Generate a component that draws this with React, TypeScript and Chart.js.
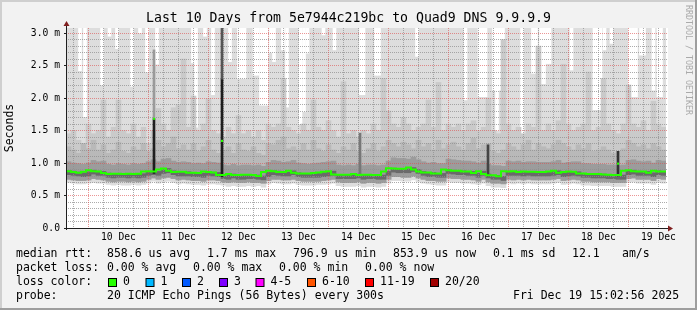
import React, { useEffect, useRef } from "react";
import { Chart, registerables } from "chart.js";

Chart.register(...registerables);

// ---------- texts ----------
const chartTitle = "Last 10 Days from 5e7944c219bc to Quad9 DNS 9.9.9.9";
const yAxisTitle = "Seconds";
const watermark = "RRDTOOL / TOBI OETIKER";

// ---------- time axis (hours since Dec 9 15:02:56, window = 10 days) ----------
const windowHours = 240;
const stepHours = 2;
const firstMidnightHour = 8.95; // Dec 10 00:00
const dayNoonHours = [20.95, 44.95, 68.95, 92.95, 116.95, 140.95, 164.95, 188.95, 212.95, 236.95];
const dayLabels = ["10 Dec", "11 Dec", "12 Dec", "13 Dec", "14 Dec", "15 Dec", "16 Dec", "17 Dec", "18 Dec", "19 Dec"];

// ---------- value axis (ms) ----------
const yMax = 3.077;
const yTickValues = [0, 0.5, 1.0, 1.5, 2.0, 2.5, 3.0];
const yTickLabels = ["0.0", "0.5 m", "1.0 m", "1.5 m", "2.0 m", "2.5 m", "3.0 m"];
const smokeCeiling = 3.5; // pings above the visible range

// ---------- per 2-hour column values (ms) ----------
const medianRtt = [
  0.88, 0.875, 0.86, 0.85, 0.865, 0.89, 0.875, 0.87, 0.845, 0.83, 0.835, 0.835,
  0.83, 0.835, 0.83, 0.835, 0.87, 0.875, 0.87, 0.9, 0.915, 0.88, 0.86, 0.865,
  0.865, 0.85, 0.85, 0.845, 0.87, 0.86, 0.855, 0.815, 0.815, 0.83, 0.815, 0.815,
  0.82, 0.82, 0.815, 0.8, 0.86, 0.88, 0.875, 0.86, 0.86, 0.88, 0.85, 0.84,
  0.84, 0.84, 0.845, 0.855, 0.865, 0.875, 0.825, 0.82, 0.82, 0.82, 0.83, 0.815,
  0.82, 0.82, 0.815, 0.815, 0.87, 0.92, 0.915, 0.91, 0.91, 0.93, 0.9, 0.87,
  0.855, 0.855, 0.84, 0.84, 0.9, 0.89, 0.88, 0.88, 0.87, 0.87, 0.845, 0.875,
  0.83, 0.81, 0.81, 0.795, 0.875, 0.87, 0.875, 0.86, 0.87, 0.865, 0.865, 0.86,
  0.86, 0.87, 0.88, 0.85, 0.86, 0.87, 0.865, 0.84, 0.84, 0.83, 0.83, 0.83,
  0.825, 0.82, 0.815, 0.815, 0.88, 0.89, 0.875, 0.87, 0.87, 0.85, 0.88, 0.87,
];
// lowest ping (light smoke bottom)
const smokeLow = [
  0.7, 0.69, 0.68, 0.68, 0.69, 0.7, 0.69, 0.69, 0.67, 0.66, 0.67, 0.66,
  0.66, 0.67, 0.66, 0.67, 0.69, 0.72, 0.69, 0.71, 0.72, 0.7, 0.68, 0.69,
  0.68, 0.67, 0.67, 0.66, 0.68, 0.68, 0.67, 0.66, 0.64, 0.65, 0.64, 0.64,
  0.65, 0.64, 0.65, 0.63, 0.68, 0.7, 0.69, 0.68, 0.68, 0.69, 0.67, 0.66,
  0.66, 0.66, 0.67, 0.67, 0.68, 0.69, 0.65, 0.64, 0.64, 0.64, 0.65, 0.63,
  0.64, 0.64, 0.63, 0.64, 0.69, 0.73, 0.73, 0.72, 0.72, 0.74, 0.71, 0.69,
  0.68, 0.67, 0.66, 0.66, 0.71, 0.7, 0.7, 0.69, 0.69, 0.68, 0.67, 0.69,
  0.65, 0.63, 0.63, 0.62, 0.69, 0.68, 0.69, 0.68, 0.69, 0.68, 0.68, 0.68,
  0.68, 0.69, 0.7, 0.67, 0.68, 0.69, 0.68, 0.66, 0.66, 0.65, 0.65, 0.65,
  0.65, 0.64, 0.64, 0.64, 0.7, 0.71, 0.69, 0.69, 0.69, 0.67, 0.7, 0.69,
];
// bottom of medium smoke
const smokeMidLow = [
  0.75, 0.74, 0.73, 0.73, 0.74, 0.76, 0.75, 0.74, 0.72, 0.71, 0.72, 0.72,
  0.71, 0.72, 0.71, 0.72, 0.75, 0.77, 0.75, 0.77, 0.78, 0.76, 0.74, 0.75,
  0.74, 0.73, 0.73, 0.72, 0.74, 0.74, 0.73, 0.71, 0.7, 0.71, 0.7, 0.7,
  0.71, 0.7, 0.7, 0.69, 0.73, 0.75, 0.75, 0.74, 0.74, 0.75, 0.73, 0.72,
  0.72, 0.72, 0.72, 0.73, 0.74, 0.75, 0.71, 0.7, 0.7, 0.7, 0.71, 0.69,
  0.7, 0.7, 0.69, 0.7, 0.75, 0.79, 0.79, 0.78, 0.78, 0.8, 0.77, 0.75,
  0.73, 0.73, 0.72, 0.72, 0.77, 0.76, 0.76, 0.75, 0.75, 0.74, 0.72, 0.75,
  0.71, 0.69, 0.69, 0.68, 0.75, 0.74, 0.75, 0.74, 0.75, 0.74, 0.74, 0.74,
  0.74, 0.75, 0.76, 0.73, 0.74, 0.75, 0.74, 0.72, 0.72, 0.71, 0.71, 0.71,
  0.71, 0.7, 0.7, 0.7, 0.76, 0.77, 0.75, 0.75, 0.75, 0.73, 0.76, 0.75,
];
// bottom of dark core smoke
const smokeCoreLow = [
  0.82, 0.81, 0.8, 0.79, 0.8, 0.83, 0.81, 0.81, 0.78, 0.77, 0.78, 0.78,
  0.77, 0.78, 0.77, 0.78, 0.81, 0.82, 0.81, 0.84, 0.85, 0.82, 0.8, 0.8,
  0.8, 0.79, 0.79, 0.78, 0.81, 0.8, 0.79, 0.76, 0.75, 0.77, 0.75, 0.75,
  0.76, 0.76, 0.75, 0.74, 0.79, 0.82, 0.81, 0.8, 0.8, 0.82, 0.79, 0.78,
  0.78, 0.78, 0.78, 0.79, 0.8, 0.81, 0.76, 0.76, 0.76, 0.76, 0.77, 0.75,
  0.76, 0.76, 0.75, 0.75, 0.81, 0.86, 0.85, 0.85, 0.85, 0.87, 0.84, 0.81,
  0.79, 0.79, 0.78, 0.78, 0.84, 0.83, 0.82, 0.82, 0.81, 0.81, 0.78, 0.81,
  0.77, 0.75, 0.75, 0.73, 0.81, 0.81, 0.81, 0.8, 0.81, 0.8, 0.8, 0.8,
  0.8, 0.81, 0.82, 0.79, 0.8, 0.81, 0.8, 0.78, 0.78, 0.77, 0.77, 0.77,
  0.76, 0.76, 0.75, 0.75, 0.82, 0.83, 0.81, 0.81, 0.81, 0.79, 0.82, 0.81,
];
// top of dark smoke
const smokeDarkHigh = [
  1.02, 1.0, 0.99, 0.98, 1.0, 1.04, 1.02, 1.03, 0.98, 0.97, 0.99, 0.98,
  0.97, 0.99, 0.98, 0.99, 1.02, 1.05, 1.02, 1.06, 1.07, 1.03, 1.01, 1.02,
  1.01, 0.99, 1.0, 0.99, 1.02, 1.01, 1.0, 0.97, 0.96, 0.98, 0.96, 0.97,
  0.97, 0.96, 0.97, 0.95, 1.01, 1.04, 1.03, 1.01, 1.02, 1.04, 1.0, 0.99,
  0.98, 0.99, 1.0, 1.01, 1.02, 1.03, 0.97, 0.96, 0.97, 0.96, 0.98, 0.96,
  0.97, 0.97, 0.96, 0.97, 1.03, 1.08, 1.07, 1.07, 1.06, 1.09, 1.05, 1.02,
  1.0, 1.01, 0.99, 0.99, 1.06, 1.05, 1.04, 1.03, 1.03, 1.02, 1.0, 1.03,
  0.98, 0.96, 0.96, 0.95, 1.03, 1.02, 1.03, 1.01, 1.02, 1.02, 1.01, 1.01,
  1.01, 1.02, 1.04, 1.0, 1.01, 1.02, 1.02, 0.99, 0.99, 0.98, 0.98, 0.98,
  0.97, 0.97, 0.96, 0.97, 1.04, 1.05, 1.03, 1.02, 1.03, 1.0, 1.04, 1.03,
];
// top of medium-dark smoke
const smokeMid2High = [
  1.25, 1.2, 1.15, 1.3, 1.22, 1.35, 1.2, 1.28, 1.15, 1.2, 1.32, 1.18,
  1.15, 1.25, 1.2, 1.3, 1.18, 1.22, 1.35, 1.25, 1.3, 1.4, 1.22, 1.28,
  1.2, 1.3, 1.18, 1.25, 1.35, 1.2, 1.15, 1.2, 1.25, 1.15, 1.3, 1.2,
  1.18, 1.25, 1.15, 1.12, 1.3, 1.28, 1.35, 1.4, 1.22, 1.25, 1.2, 1.3,
  1.2, 1.35, 1.22, 1.18, 1.28, 1.2, 1.15, 1.25, 1.2, 1.3, 1.18, 1.15,
  1.22, 1.3, 1.18, 1.25, 1.35, 1.3, 1.25, 1.32, 1.28, 1.22, 1.35, 1.25,
  1.3, 1.2, 1.35, 1.22, 1.28, 1.32, 1.25, 1.2, 1.3, 1.38, 1.22, 1.28,
  1.3, 1.18, 1.15, 1.2, 1.3, 1.25, 1.2, 1.28, 1.35, 1.2, 1.3, 1.25,
  1.22, 1.28, 1.35, 1.3, 1.25, 1.2, 1.28, 1.22, 1.3, 1.18, 1.2, 1.25,
  1.2, 1.15, 1.18, 1.22, 1.35, 1.3, 1.25, 1.28, 1.22, 1.3, 1.25, 1.2,
];
// top of medium smoke
const smokeMidHigh = [
  1.45, 1.5, 1.35, 1.3, 1.6, 1.45, 1.5, 1.97, 1.4, 1.55, 1.97, 1.5,
  1.45, 1.6, 1.4, 1.55, 1.3, 1.5, 1.84, 1.6, 1.5, 1.85, 1.9, 2.6,
  1.55, 2.03, 1.5, 1.6, 1.99, 1.5, 1.45, 1.4, 1.55, 1.45, 1.73, 1.45,
  1.5, 1.4, 1.5, 1.35, 1.6, 1.55, 1.6, 2.3, 1.55, 1.5, 1.45, 1.6,
  1.5, 1.97, 1.55, 1.5, 1.65, 1.5, 1.4, 2.25, 1.45, 1.5, 1.4, 1.5,
  1.45, 1.6, 1.5, 2.3, 1.8, 1.6, 1.55, 1.7, 1.6, 1.5, 1.55, 1.6,
  1.97, 1.55, 2.24, 1.5, 1.6, 1.55, 1.6, 1.5, 1.6, 1.65, 1.5, 1.55,
  2.0, 1.5, 1.45, 2.9, 1.6, 1.5, 1.55, 1.45, 1.6, 1.55, 2.8, 1.5,
  1.6, 1.5, 1.65, 2.52, 1.6, 1.5, 1.55, 1.6, 2.4, 1.5, 1.55, 2.3,
  1.6, 1.5, 1.45, 1.6, 2.2, 1.6, 1.55, 1.65, 1.5, 1.95, 1.6, 1.55,
];

// ---------- narrow features ----------
// steps where the highest ping stayed below the visible top (white streaks)
const maxGapHours = [
  5.6, 7.6, 14.4, 17.4, 20.4, 26.4, 29.6, 32.4, 36.4, 50.8, 52.0, 55.6, 58.8, 65.6,
  69.2, 70.4, 71.4, 75.4, 76.6, 78.0, 79.2, 80.2, 82.0, 83.2, 86.8, 88.4, 93.8, 95.2,
  96.6, 103.0, 107.4, 118.0, 119.0, 124.0, 125.2, 140.4, 159.8, 165.4, 166.6, 167.8,
  171.2, 172.4, 173.6, 174.8, 182.4, 186.8, 188.0, 190.0, 191.2, 192.4, 193.4, 202.2,
  211.4, 212.6, 213.8, 215.4, 218.2, 225.6, 226.8, 228.0, 230.0, 231.2, 235.0, 237.0, 238.0,
];
const maxGapValues = [
  2.42, 1.71, 2.2, 2.95, 2.76, 2.18, 3.0, 2.4, 2.52, 2.54, 1.55, 2.95, 2.05, 2.56,
  2.3, 2.3, 2.3, 2.35, 2.35, 1.89, 1.89, 1.89, 2.7, 2.56, 2.74, 1.86, 1.6, 1.79,
  2.69, 2.97, 2.74, 2.05, 2.05, 2.35, 2.35, 2.64, 1.97, 2.02, 2.02, 2.02,
  2.12, 1.5, 2.12, 2.12, 1.45, 2.38, 2.38, 2.22, 2.22, 2.53, 2.53, 2.43,
  1.82, 1.82, 1.82, 2.74, 2.84, 2.02, 2.02, 2.02, 2.66, 2.66, 2.12, 2.02, 2.02,
];
// short bursts of high latency
const spikeHours = [35.2, 62.4, 117.6, 168.8, 220.8];
const spikeLow = [0.84, 0.79, 0.8, 0.8, 0.8];
const spikeHigh = [1.68, 2.28, 1.46, 1.28, 1.18];
const spikeShades = ["#1e1e1e", "#1e1e1e", "#777777", "#444444", "#333333"];
const spikeUpperHours = [35.2, 62.4];
const spikeUpperLow = [1.68, 2.28];
const spikeUpperHigh = [2.74, 3.5];
const spikeUpperShades = ["#9a9a9a", "#555555"];
const spikeMedianHours = [35.2, 62.4, 220.8];
const spikeMedianValues = [1.68, 1.34, 0.99];

// ---------- legend ----------
const legendMedian = ["median rtt:", "858.6 us avg", "1.7 ms max", "796.9 us min", "853.9 us now", "0.1 ms sd", "12.1", "am/s"];
const legendLoss = ["packet loss:", "0.00 % avg", "0.00 % max", "0.00 % min", "0.00 % now"];
const lossColorTitle = "loss color:";
const lossLabels = ["0", "1", "2", "3", "4-5", "6-10", "11-19", "20/20"];
const lossColors = ["#26ff00", "#00b8ff", "#0059ff", "#7e00ff", "#ff00ff", "#ff5500", "#ff0000", "#a10000"];
const probeLabel = "probe:";
const probeText = "20 ICMP Echo Pings (56 Bytes) every 300s";
const timestampText = "Fri Dec 19 15:02:56 2025";

// ---------- styling ----------
const MONO = '"DejaVu Sans Mono", "Liberation Mono", monospace';
const COL_BACK = "rgb(242,242,242)";
const COL_SHADEA = "rgb(207,207,207)";
const COL_SHADEB = "rgb(158,158,158)";
const COL_GRID = "rgba(143,143,143,0.75)";
const COL_MGRID = "rgba(222,79,79,0.6)";
const COL_AXIS = "rgb(31,31,31)";
const COL_ARROW = "rgb(128,31,31)";

const medianPos = [16, 107, 207, 293, 393, 493, 572, 622];
const lossPos = [16, 107, 193, 279, 365];
const boxPos = [108, 145.5, 182, 219, 255.5, 307, 365, 430];
const rowY = [254, 268, 282, 296];

function drawGrid(chart: any) {
  const { ctx, chartArea: a, scales } = chart;
  const xs = scales.x;
  const ys = scales.y;
  ctx.save();
  ctx.lineWidth = 1;
  ctx.setLineDash([1, 1]);
  ctx.strokeStyle = COL_GRID;
  for (let k = 1; k <= 30; k++) {
    if (k % 5 === 0) continue;
    const py = Math.floor(ys.getPixelForValue(k / 10)) + 0.5;
    ctx.beginPath();
    ctx.moveTo(a.left, py);
    ctx.lineTo(a.right + 2, py);
    ctx.stroke();
  }
  for (let h = firstMidnightHour - 6; h < windowHours; h += 6) {
    const k = Math.round((h - firstMidnightHour) / 6);
    if (((k % 4) + 4) % 4 === 0) continue;
    const px = Math.floor(xs.getPixelForValue(h)) + 0.5;
    ctx.beginPath();
    ctx.moveTo(px, a.top);
    ctx.lineTo(px, a.bottom);
    ctx.stroke();
  }
  ctx.strokeStyle = COL_MGRID;
  for (let k = 1; k <= 6; k++) {
    const py = Math.floor(ys.getPixelForValue(k * 0.5)) + 0.5;
    ctx.beginPath();
    ctx.moveTo(a.left, py);
    ctx.lineTo(a.right + 2, py);
    ctx.stroke();
  }
  for (let h = firstMidnightHour; h < windowHours; h += 24) {
    const px = Math.floor(xs.getPixelForValue(h)) + 0.5;
    ctx.beginPath();
    ctx.moveTo(px, a.top);
    ctx.lineTo(px, a.bottom + 2);
    ctx.stroke();
  }
  ctx.restore();
}

const rrdPlugin = {
  id: "rrdLook",
  beforeDraw(chart: any) {
    const { ctx, width, height, chartArea: a } = chart;
    ctx.save();
    ctx.fillStyle = COL_BACK;
    ctx.fillRect(0, 0, width, height);
    ctx.fillStyle = COL_SHADEA;
    ctx.fillRect(0, 0, width, 2);
    ctx.fillRect(0, 0, 2, height);
    ctx.fillStyle = COL_SHADEB;
    ctx.fillRect(0, height - 2, width, 2);
    ctx.fillRect(width - 2, 0, 2, height);
    ctx.fillStyle = "#ffffff";
    ctx.fillRect(a.left, a.top, a.right - a.left + 2, a.bottom - a.top);
    ctx.restore();
  },
  afterDatasetDraw(chart: any, args: any) {
    if (chart.data.datasets[args.index].label === "smoke-core") drawGrid(chart);
  },
  afterDraw(chart: any) {
    const { ctx, chartArea: a, scales } = chart;
    const ys = scales.y;
    ctx.save();
    ctx.strokeStyle = COL_AXIS;
    ctx.lineWidth = 1;
    ctx.beginPath();
    ctx.moveTo(a.left + 0.5, a.bottom + 2);
    ctx.lineTo(a.left + 0.5, a.top - 3);
    ctx.moveTo(a.left - 2, a.bottom + 0.5);
    ctx.lineTo(a.right + 2, a.bottom + 0.5);
    for (const v of yTickValues) {
      const py = Math.floor(ys.getPixelForValue(v)) + 0.5;
      ctx.moveTo(a.left - 2, py);
      ctx.lineTo(a.left, py);
    }
    ctx.stroke();
    ctx.fillStyle = COL_ARROW;
    ctx.beginPath();
    ctx.moveTo(a.left + 0.5, a.top - 7);
    ctx.lineTo(a.left - 2.5, a.top - 2);
    ctx.lineTo(a.left + 3.5, a.top - 2);
    ctx.closePath();
    ctx.fill();
    ctx.beginPath();
    ctx.moveTo(a.right + 7, a.bottom + 0.5);
    ctx.lineTo(a.right + 2, a.bottom - 2.5);
    ctx.lineTo(a.right + 2, a.bottom + 3.5);
    ctx.closePath();
    ctx.fill();

    ctx.fillStyle = "#000";
    ctx.textBaseline = "middle";
    ctx.textAlign = "center";
    ctx.font = `13.2px ${MONO}`;
    ctx.fillText(chartTitle, chart.width / 2, 19);

    ctx.save();
    ctx.font = `11.5px ${MONO}`;
    ctx.translate(10, (a.top + a.bottom) / 2);
    ctx.rotate(-Math.PI / 2);
    ctx.fillText(yAxisTitle, 0, 0);
    ctx.restore();

    ctx.save();
    ctx.fillStyle = "#aaaaaa";
    ctx.font = `8.3px ${MONO}`;
    ctx.textAlign = "left";
    ctx.translate(688.5, 5);
    ctx.rotate(Math.PI / 2);
    ctx.fillText(watermark, 0, 0);
    ctx.restore();

    ctx.textAlign = "left";
    ctx.font = `11.5px ${MONO}`;
    legendMedian.forEach((t, i) => ctx.fillText(t, medianPos[i], rowY[0]));
    legendLoss.forEach((t, i) => ctx.fillText(t, lossPos[i], rowY[1]));
    ctx.fillText(lossColorTitle, 16, rowY[2]);
    lossLabels.forEach((t, i) => {
      const bx = boxPos[i];
      ctx.fillStyle = "#000";
      ctx.fillRect(bx, rowY[2] - 4, 9, 9);
      ctx.fillStyle = lossColors[i];
      ctx.fillRect(bx + 1, rowY[2] - 3, 7, 7);
      ctx.fillStyle = "#000";
      ctx.fillText(t, bx + 15, rowY[2]);
    });
    ctx.fillText(probeLabel, 16, rowY[3]);
    ctx.fillText(probeText, 107, rowY[3]);
    ctx.fillText(timestampText, 513, rowY[3]);
    ctx.restore();
  },
};

function buildConfig(): any {
  const colStart = medianRtt.map((_, i) => i * stepHours);
  const colMid = colStart.map((h) => h + stepHours / 2);
  const band = (label: string, lows: number[], highs: number[] | null, color: string, order: number) => ({
    type: "bar",
    label,
    order,
    data: colMid.map((h, i) => ({ x: h, y: [lows[i], highs ? highs[i] : smokeCeiling] })),
    backgroundColor: color,
    borderWidth: 0,
    barThickness: 5,
    grouped: false,
  });
  const datasets: any[] = [
    band("smoke-light", smokeLow, null, "#dddddd", 20),
    {
      type: "bar",
      label: "max-gaps",
      order: 19,
      data: maxGapHours.map((h, i) => ({ x: h, y: [maxGapValues[i], smokeCeiling] })),
      backgroundColor: "#ffffff",
      borderWidth: 0,
      barThickness: 3,
      grouped: false,
    },
    band("smoke-mid", smokeMidLow, smokeMidHigh, "#cacaca", 18),
    band("smoke-mid2", smokeMidLow, smokeMid2High, "#b9b9b9", 17),
    band("smoke-dark", smokeMidLow, smokeDarkHigh, "#9c9c9c", 16),
    band("smoke-core", smokeCoreLow, medianRtt, "#6a6a6a", 15),
    {
      type: "bar",
      label: "spike-upper",
      order: 6,
      data: spikeUpperHours.map((h, i) => ({ x: h, y: [spikeUpperLow[i], spikeUpperHigh[i]] })),
      backgroundColor: spikeUpperShades,
      borderWidth: 0,
      barThickness: 2,
      grouped: false,
    },
    {
      type: "bar",
      label: "spikes",
      order: 5,
      data: spikeHours.map((h, i) => ({ x: h, y: [spikeLow[i], spikeHigh[i]] })),
      backgroundColor: spikeShades,
      borderWidth: 0,
      barThickness: 2,
      grouped: false,
    },
    {
      type: "line",
      label: "median",
      order: 2,
      data: [...colStart.map((h, i) => ({ x: h, y: medianRtt[i] })), { x: windowHours, y: medianRtt[medianRtt.length - 1] }],
      stepped: "after",
      borderColor: "#26ff00",
      borderWidth: 2,
      pointRadius: 0,
      fill: false,
    },
    {
      type: "line",
      label: "spike-median",
      order: 1,
      data: spikeMedianHours.map((h, i) => ({ x: h, y: spikeMedianValues[i] })),
      showLine: false,
      pointStyle: "rect",
      pointRadius: 1.5,
      pointBorderWidth: 0,
      pointBackgroundColor: "#26ff00",
      borderWidth: 0,
    },
  ];
  return {
    type: "bar",
    data: { datasets },
    plugins: [rrdPlugin],
    options: {
      responsive: false,
      animation: false,
      devicePixelRatio: 1,
      layout: { padding: { top: 28, right: 31, left: 0, bottom: 0 } },
      plugins: { legend: { display: false }, tooltip: { enabled: false }, title: { display: false } },
      scales: {
        x: {
          type: "linear",
          min: 0,
          max: windowHours,
          offset: false,
          grid: { display: false, drawTicks: false, offset: false },
          border: { display: false },
          afterBuildTicks: (s: any) => {
            s.ticks = dayNoonHours.map((v) => ({ value: v }));
          },
          afterFit: (s: any) => {
            s.height = 82;
          },
          ticks: {
            autoSkip: false,
            maxRotation: 0,
            minRotation: 0,
            padding: 3.5,
            color: "#000",
            font: { family: MONO, size: 9.7 },
            callback: (_v: any, i: number) => dayLabels[i],
          },
        },
        y: {
          type: "linear",
          min: 0,
          max: yMax,
          grid: { display: false, drawTicks: false },
          border: { display: false },
          afterBuildTicks: (s: any) => {
            s.ticks = yTickValues.map((v) => ({ value: v }));
          },
          afterFit: (s: any) => {
            s.width = 66;
          },
          ticks: {
            autoSkip: false,
            padding: 6,
            color: "#000",
            font: { family: MONO, size: 9.7 },
            callback: (_v: any, i: number) => yTickLabels[i],
          },
        },
      },
    },
  };
}

export default function App() {
  const ref = useRef<HTMLCanvasElement>(null);
  useEffect(() => {
    const canvas = ref.current;
    if (!canvas) return;
    const chart = new Chart(canvas, buildConfig());
    return () => chart.destroy();
  }, []);
  return (
    <div style={{ position: "absolute", left: 0, top: 0, width: 697, height: 310 }}>
      <canvas ref={ref} width={697} height={310} style={{ display: "block", width: 697, height: 310 }} />
    </div>
  );
}
